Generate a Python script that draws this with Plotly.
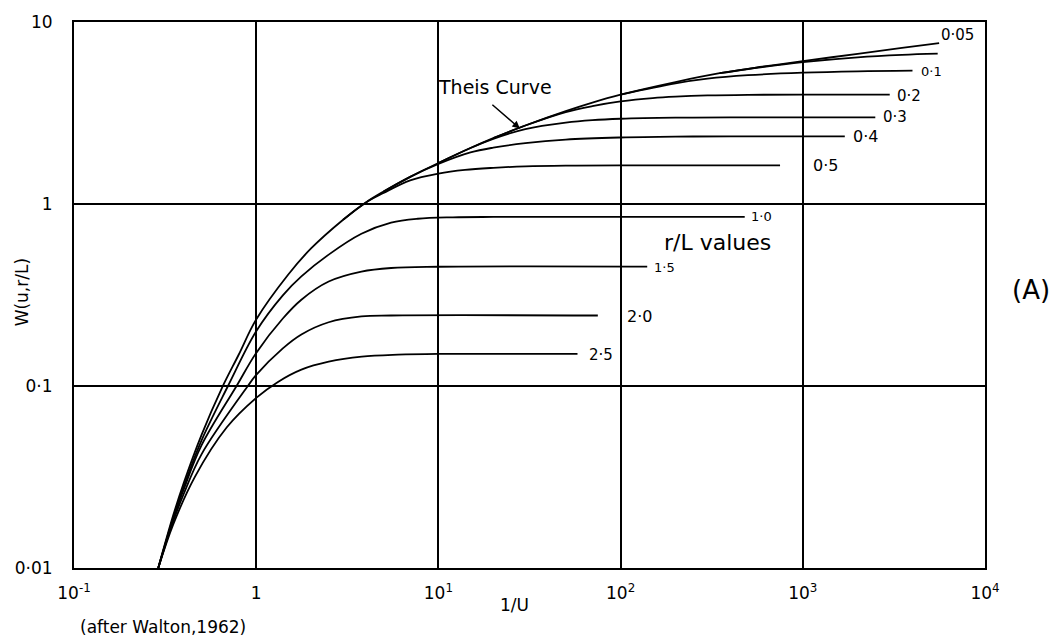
import math
import plotly.graph_objects as go

# ---- data (x = 1/u, y = W(u, r/L)) ----
theis_x = [0.29, 0.35, 0.4, 0.5, 0.65, 0.8, 1, 1.5, 2, 3, 4, 5, 7, 10, 15, 20, 30, 50, 70, 100,
           200, 350, 600, 1000, 2000, 3500, 5600]
theis_y = [0.01, 0.0194, 0.0293, 0.0536, 0.098, 0.148, 0.232, 0.41, 0.57, 0.82, 1.02, 1.17, 1.41,
           1.68, 2.03, 2.30, 2.70, 3.24, 3.61, 3.99, 4.68, 5.23, 5.68, 6.09, 6.69, 7.2, 7.66]

rb005_x = [350, 600, 1000, 2000, 3500, 5500]
rb005_y = [5.23, 5.66, 6.02, 6.4, 6.6, 6.7]
rb01_x = [100, 200, 300, 500, 1000, 2000, 4000]
rb01_y = [3.99, 4.6, 4.88, 5.1, 5.27, 5.36, 5.4]
rb02_x = [20, 30, 50, 70, 100, 150, 200, 300, 500, 1000, 3000]
rb02_y = [2.30, 2.70, 3.2, 3.45, 3.66, 3.82, 3.89, 3.95, 3.98, 3.99, 3.99]
rb03_x = [10, 15, 20, 30, 50, 70, 100, 200, 400, 2500]
rb03_y = [1.68, 2.03, 2.28, 2.58, 2.8, 2.89, 2.94, 2.98, 2.99, 2.99]
rb04_x = [5, 7, 10, 15, 20, 30, 50, 100, 200, 400, 1700]
rb04_y = [1.17, 1.41, 1.66, 1.92, 2.04, 2.16, 2.26, 2.32, 2.345, 2.35, 2.35]
rb05_x = [3, 4, 5, 7, 10, 14, 20, 30, 50, 100, 750]
rb05_y = [0.82, 1.02, 1.15, 1.35, 1.47, 1.54, 1.58, 1.61, 1.625, 1.63, 1.63]
rb10_x = [0.29, 0.35, 0.4, 0.5, 0.7, 1, 1.4, 1.77, 2.5, 3.78, 5.5, 7.7, 12, 20, 480]
rb10_y = [0.01, 0.0188, 0.028, 0.05, 0.1, 0.2, 0.315, 0.40, 0.527, 0.686, 0.79, 0.83, 0.845, 0.849, 0.849]
rb15_x = [0.29, 0.35, 0.4, 0.5, 0.78, 1, 1.4, 1.77, 2.5, 3.78, 5.5, 10, 140]
rb15_y = [0.01, 0.0185, 0.027, 0.047, 0.1, 0.152, 0.235, 0.298, 0.375, 0.425, 0.445, 0.452, 0.453]
rb20_x = [0.29, 0.35, 0.4, 0.5, 0.9, 1, 1.4, 1.77, 2.5, 3.78, 5.5, 75]
rb20_y = [0.01, 0.018, 0.0255, 0.042, 0.1, 0.115, 0.161, 0.192, 0.224, 0.241, 0.244, 0.244]
rb25_x = [0.29, 0.35, 0.46, 0.69, 1, 1.31, 1.77, 2.5, 3.8, 6, 10, 58]
rb25_y = [0.01, 0.0173, 0.0316, 0.0593, 0.086, 0.105, 0.123, 0.136, 0.145, 0.1486, 0.15, 0.15]

curve_labels = ["0·05", "0·1", "0·2", "0·3", "0·4", "0·5", "1·0", "1·5", "2·0", "2·5"]
curves = [(rb005_x, rb005_y), (rb01_x, rb01_y), (rb02_x, rb02_y), (rb03_x, rb03_y),
          (rb04_x, rb04_y), (rb05_x, rb05_y), (rb10_x, rb10_y), (rb15_x, rb15_y),
          (rb20_x, rb20_y), (rb25_x, rb25_y)]

x_tickvals = [0.1, 1, 10, 100, 1000, 10000]
x_ticktext = ["10<sup>-1</sup>", "1", "10<sup>1</sup>", "10<sup>2</sup>", "10<sup>3</sup>", "10<sup>4</sup>"]
y_tickvals = [0.01, 0.1, 1, 10]
y_ticktext = ["0·01", "0·1", "1", "10"]

FONT = "DejaVu Sans"

fig = go.Figure()
line_style = dict(color="black", width=1.8, shape="spline", smoothing=1.0)
fig.add_trace(go.Scatter(x=theis_x, y=theis_y, mode="lines", line=line_style,
                         hoverinfo="skip", showlegend=False))
for cx, cy in curves:
    fig.add_trace(go.Scatter(x=cx, y=cy, mode="lines", line=line_style,
                             hoverinfo="skip", showlegend=False))

# label styling: (x shift px, y shift px, font size)
label_style = {
    "0·05": (0, 8, 15), "0·1": (6, -1, 13), "0·2": (5, -1, 15), "0·3": (6, 0, 15),
    "0·4": (6, 0, 16), "0·5": (31, 0, 16), "1·0": (4, 0, 13), "1·5": (5, -1, 13),
    "2·0": (27, -1, 16), "2·5": (9, -1, 15),
}
annotations = []
for lab, (cx, cy) in zip(curve_labels, curves):
    xs, ys, fs = label_style[lab]
    if lab == "0·05":
        ax_, ay_ = theis_x[-1], theis_y[-1]
    else:
        ax_, ay_ = cx[-1], cy[-1]
    annotations.append(dict(x=math.log10(ax_), y=math.log10(ay_), xref="x", yref="y",
                            text=lab, showarrow=False, xanchor="left", yanchor="middle",
                            xshift=xs, yshift=ys, font=dict(family=FONT, size=fs, color="black")))

def txt(text, x, y, size, angle=0):
    return dict(x=x, y=y, xref="paper", yref="paper", text=text, textangle=angle,
                showarrow=False, xanchor="center", yanchor="middle",
                font=dict(family=FONT, size=size, color="black"))

annotations += [
    txt("W(u,r/L)", -0.057, 0.505, 17, -90),
    txt("1/U", 0.484, -0.068, 17),
    txt("(after Walton,1962)", 0.098, -0.108, 17),
    txt("(A)", 1.05, 0.509, 26),
    txt("r/L values", 0.706, 0.597, 22),
    txt("Theis Curve", 0.462, 0.881, 19),
    dict(x=math.log10(28), y=math.log10(2.6), xref="x", yref="y", text="", showarrow=True,
         ax=-29, ay=-25, arrowhead=2, arrowsize=1, arrowwidth=1.5, arrowcolor="black"),
]

fig.update_layout(
    width=1054, height=643,
    margin=dict(l=74, r=69, t=22, b=75),
    paper_bgcolor="white", plot_bgcolor="white",
    font=dict(family=FONT, size=17, color="black"),
    annotations=annotations,
)
fig.update_xaxes(type="log", range=[-1, 4], tickvals=x_tickvals, ticktext=x_ticktext,
                 showgrid=True, gridcolor="black", gridwidth=1.5,
                 showline=True, linecolor="black", linewidth=2, mirror=True,
                 ticks="", zeroline=False, ticklabelstandoff=9,
                 tickfont=dict(family=FONT, size=17, color="black"))
fig.update_yaxes(type="log", range=[-2, 1], tickvals=y_tickvals, ticktext=y_ticktext,
                 showgrid=True, gridcolor="black", gridwidth=1.5,
                 showline=True, linecolor="black", linewidth=2, mirror=True,
                 ticks="", zeroline=False, ticklabelstandoff=16,
                 tickfont=dict(family=FONT, size=17, color="black"))

fig.write_html("out.html")
